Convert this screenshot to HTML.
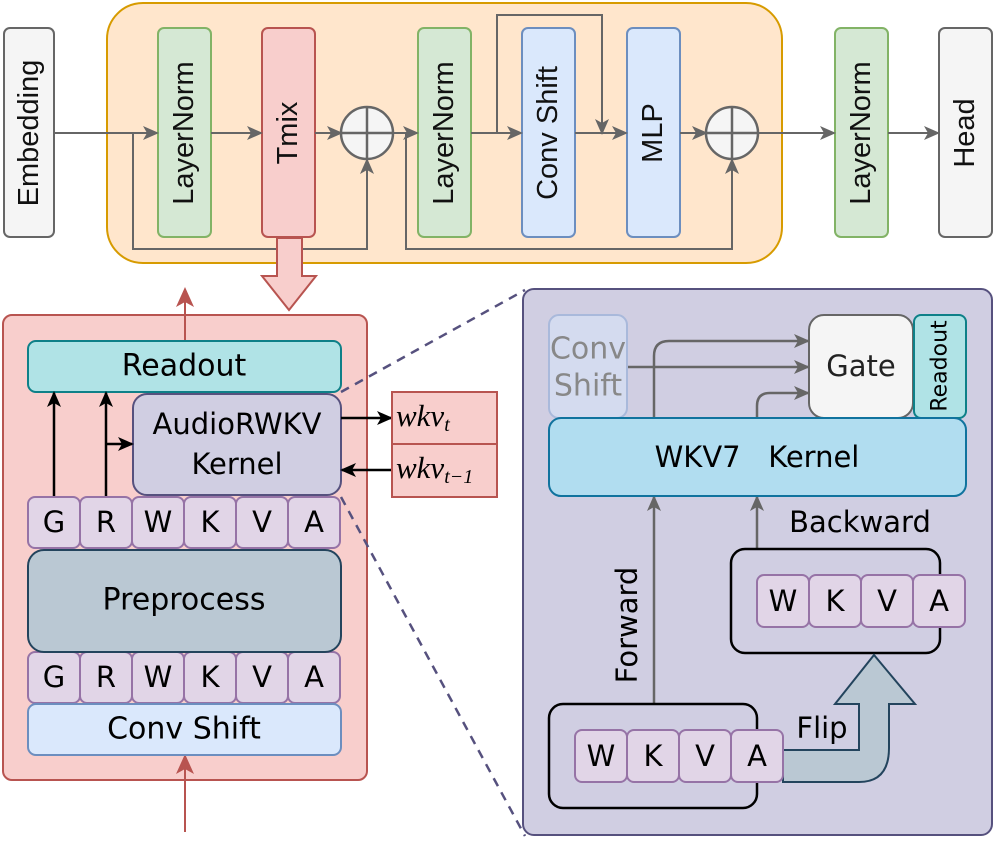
<!DOCTYPE html>
<html><head><meta charset="utf-8"><style>html,body{margin:0;padding:0;background:#fff}svg{display:block}</style></head><body>
<svg width="997" height="860" viewBox="0 0 997 860" xmlns="http://www.w3.org/2000/svg">
<defs>
<marker id="ag" markerWidth="16" markerHeight="14" refX="14" refY="7" orient="auto" markerUnits="userSpaceOnUse"><path d="M0,0 L16,7 L0,14 L4,7 Z" fill="#666"/></marker>
<marker id="ab" markerWidth="16" markerHeight="14" refX="14" refY="7" orient="auto" markerUnits="userSpaceOnUse"><path d="M0,0 L16,7 L0,14 L4,7 Z" fill="#000"/></marker>
<marker id="ar" markerWidth="20" markerHeight="18" refX="18" refY="9" orient="auto" markerUnits="userSpaceOnUse"><path d="M0,0 L20,9 L0,18 L5,9 Z" fill="#b85450"/></marker>
</defs>
<g font-family="Liberation Sans, sans-serif">
<rect x="107" y="3" width="675" height="260" rx="36" fill="#ffe6cc" stroke="#d79b00" stroke-width="2"/>
<rect x="4" y="28" width="50" height="209" rx="6" fill="#f5f5f5" stroke="#666" stroke-width="2"/>
<rect x="158" y="28" width="53" height="209" rx="6" fill="#d5e8d4" stroke="#82b366" stroke-width="2"/>
<rect x="262" y="28" width="53" height="209" rx="6" fill="#f8cecc" stroke="#b85450" stroke-width="2"/>
<rect x="418" y="28" width="53" height="209" rx="6" fill="#d5e8d4" stroke="#82b366" stroke-width="2"/>
<rect x="522" y="28" width="53" height="209" rx="6" fill="#dae8fc" stroke="#6c8ebf" stroke-width="2"/>
<rect x="627" y="28" width="53" height="209" rx="6" fill="#dae8fc" stroke="#6c8ebf" stroke-width="2"/>
<rect x="835" y="28" width="53" height="209" rx="6" fill="#d5e8d4" stroke="#82b366" stroke-width="2"/>
<rect x="939" y="28" width="53" height="209" rx="6" fill="#f5f5f5" stroke="#666" stroke-width="2"/>
<g font-size="29" text-anchor="middle" fill="#111" dominant-baseline="central">
<text transform="translate(29,133) rotate(-90)">Embedding</text>
<text transform="translate(184,133) rotate(-90)">LayerNorm</text>
<text transform="translate(288,133) rotate(-90)">Tmix</text>
<text transform="translate(444,133) rotate(-90)">LayerNorm</text>
<text transform="translate(548,133) rotate(-90)">Conv Shift</text>
<text transform="translate(653,133) rotate(-90)">MLP</text>
<text transform="translate(861,133) rotate(-90)">LayerNorm</text>
<text transform="translate(965,133) rotate(-90)">Head</text>
</g>
<g stroke="#666" stroke-width="2" fill="none">
<line x1="54" y1="133" x2="157" y2="133" marker-end="url(#ag)"/>
<line x1="211" y1="133" x2="261" y2="133" marker-end="url(#ag)"/>
<line x1="315" y1="133" x2="341" y2="133" marker-end="url(#ag)"/>
<polyline points="133,133 133,249 367,249 367,160" marker-end="url(#ag)"/>
<line x1="393" y1="133" x2="417" y2="133" marker-end="url(#ag)"/>
<polyline points="406,133 406,249 732,249 732,160" marker-end="url(#ag)"/>
<line x1="471" y1="133" x2="521" y2="133" marker-end="url(#ag)"/>
<polyline points="497,133 497,15 602,15 602,133" marker-end="url(#ag)"/>
<line x1="575" y1="133" x2="626" y2="133" marker-end="url(#ag)"/>
<line x1="680" y1="133" x2="706" y2="133" marker-end="url(#ag)"/>
<line x1="758" y1="133" x2="834" y2="133" marker-end="url(#ag)"/>
<line x1="888" y1="133" x2="938" y2="133" marker-end="url(#ag)"/>
</g>
<g stroke="#666" stroke-width="2.5" fill="none">
<circle cx="367" cy="133" r="26" fill="#f5f5f5"/>
<line x1="341" y1="133" x2="393" y2="133"/><line x1="367" y1="107" x2="367" y2="159"/>
<circle cx="732" cy="133" r="26" fill="#f5f5f5"/>
<line x1="706" y1="133" x2="758" y2="133"/><line x1="732" y1="107" x2="732" y2="159"/>
</g>
<path d="M277,238 L302,238 L302,276 L316,276 L289,310 L262,276 L277,276 Z" fill="#f8cecc" stroke="#b85450" stroke-width="2"/>
</g>

<g font-family="DejaVu Sans, sans-serif" dominant-baseline="central">
<rect x="3" y="315" width="364" height="465" rx="9" fill="#f8cecc" stroke="#b85450" stroke-width="2"/>
<line x1="185" y1="341" x2="185" y2="289" stroke="#b85450" stroke-width="2" marker-end="url(#ar)"/>
<line x1="185" y1="832" x2="185" y2="756" stroke="#b85450" stroke-width="2" marker-end="url(#ar)"/>
<rect x="28" y="341" width="313" height="51" rx="8" fill="#b0e3e6" stroke="#0e8088" stroke-width="2"/>
<text x="184" y="366" font-size="30" text-anchor="middle">Readout</text>
<rect x="133" y="394" width="208" height="101" rx="14" fill="#d0cee2" stroke="#56517e" stroke-width="2"/>
<text x="237" y="424" font-size="29" text-anchor="middle">AudioRWKV</text>
<text x="237" y="464" font-size="29" text-anchor="middle">Kernel</text>
<g fill="#e1d5e7" stroke="#9673a6" stroke-width="2">
<rect x="28" y="497" width="52" height="51" rx="7"/><rect x="80" y="497" width="52" height="51" rx="7"/><rect x="132" y="497" width="52" height="51" rx="7"/><rect x="184" y="497" width="52" height="51" rx="7"/><rect x="236" y="497" width="52" height="51" rx="7"/><rect x="288" y="497" width="52" height="51" rx="7"/>
<rect x="28" y="652" width="52" height="51" rx="7"/><rect x="80" y="652" width="52" height="51" rx="7"/><rect x="132" y="652" width="52" height="51" rx="7"/><rect x="184" y="652" width="52" height="51" rx="7"/><rect x="236" y="652" width="52" height="51" rx="7"/><rect x="288" y="652" width="52" height="51" rx="7"/>
</g>
<g font-size="29" text-anchor="middle">
<text x="54" y="522">G</text><text x="106" y="522">R</text><text x="158" y="522">W</text><text x="210" y="522">K</text><text x="262" y="522">V</text><text x="314" y="522">A</text>
<text x="54" y="677">G</text><text x="106" y="677">R</text><text x="158" y="677">W</text><text x="210" y="677">K</text><text x="262" y="677">V</text><text x="314" y="677">A</text>
</g>
<rect x="28" y="550" width="313" height="102" rx="16" fill="#bac8d3" stroke="#23445d" stroke-width="2"/>
<text x="184" y="600" font-size="30" text-anchor="middle">Preprocess</text>
<rect x="28" y="704" width="313" height="51" rx="8" fill="#dae8fc" stroke="#6c8ebf" stroke-width="2"/>
<text x="184" y="729" font-size="30" text-anchor="middle">Conv Shift</text>
<g stroke="#000" stroke-width="2.5" fill="none">
<line x1="54" y1="496" x2="54" y2="393" marker-end="url(#ab)"/>
<line x1="106" y1="496" x2="106" y2="393" marker-end="url(#ab)"/>
<line x1="106" y1="444" x2="132" y2="444" marker-end="url(#ab)"/>
<line x1="341" y1="418" x2="391" y2="418" marker-end="url(#ab)"/>
<line x1="392" y1="470" x2="342" y2="470" marker-end="url(#ab)"/>
</g>
<rect x="392" y="392" width="105" height="52" fill="#f8cecc" stroke="#b85450" stroke-width="2"/>
<rect x="392" y="444" width="105" height="53" fill="#f8cecc" stroke="#b85450" stroke-width="2"/>
<text x="396" y="418" font-family="Liberation Serif, serif" font-style="italic" font-size="31" dominant-baseline="auto" transform="translate(0,8)">wkv<tspan font-size="20" dy="5">t</tspan></text>
<text x="396" y="470" font-family="Liberation Serif, serif" font-style="italic" font-size="31" dominant-baseline="auto" transform="translate(0,8)">wkv<tspan font-size="20" dy="5">t−1</tspan></text>
<line x1="341" y1="392" x2="525" y2="290" stroke="#56517e" stroke-width="2.5" stroke-dasharray="9,7"/>
<line x1="341" y1="497" x2="525" y2="836" stroke="#56517e" stroke-width="2.5" stroke-dasharray="9,7"/>

<rect x="523" y="289" width="469" height="546" rx="11" fill="#d0cee2" stroke="#56517e" stroke-width="2"/>
<rect x="549" y="315" width="78" height="103" rx="10" fill="#d4dbef" stroke="#a9b9db" stroke-width="2"/>
<text x="588" y="349" font-size="30" text-anchor="middle" fill="#888">Conv</text>
<text x="588" y="386" font-size="30" text-anchor="middle" fill="#888">Shift</text>
<rect x="809" y="315" width="104" height="103" rx="15" fill="#f5f5f5" stroke="#666" stroke-width="2"/>
<text x="861" y="366" font-size="29" text-anchor="middle" fill="#222">Gate</text>
<rect x="914" y="315" width="52" height="103" rx="7" fill="#b0e3e6" stroke="#0e8088" stroke-width="2"/>
<text transform="translate(940,366) rotate(-90)" font-size="22" text-anchor="middle">Readout</text>
<g stroke="#666" stroke-width="2.5" fill="none">
<path d="M654,418 L654,356 Q654,341 669,341 L808,341" marker-end="url(#ag)"/>
<line x1="628" y1="367" x2="808" y2="367" marker-end="url(#ag)"/>
<path d="M757,418 L757,406 Q757,393 770,393 L808,393" marker-end="url(#ag)"/>
<line x1="654" y1="704" x2="654" y2="497" marker-end="url(#ag)"/>
<line x1="757" y1="548" x2="757" y2="497" marker-end="url(#ag)"/>
</g>
<rect x="549" y="418" width="417" height="78" rx="12" fill="#b1ddf0" stroke="#10739e" stroke-width="2"/>
<text x="757" y="457" font-size="29" text-anchor="middle" xml:space="preserve">WKV7   Kernel</text>
<text x="860" y="522" font-size="29" text-anchor="middle">Backward</text>
<text transform="translate(627,625) rotate(-90)" font-size="29" text-anchor="middle">Forward</text>
<rect x="731" y="549" width="209" height="104" rx="14" fill="none" stroke="#000" stroke-width="2.5"/>
<rect x="549" y="704" width="208" height="104" rx="14" fill="none" stroke="#000" stroke-width="2.5"/>
<path d="M783,750 L859,750 L859,704 L835,704 L874,655 L915,704 L889,704 L889,748 Q889,782 859,782 L783,782 Z" fill="#bac8d3" stroke="#23445d" stroke-width="2"/>
<text x="822" y="728" font-size="29" text-anchor="middle">Flip</text>
<g fill="#e1d5e7" stroke="#9673a6" stroke-width="2">
<rect x="757" y="575" width="52" height="52" rx="7"/><rect x="809" y="575" width="52" height="52" rx="7"/><rect x="861" y="575" width="52" height="52" rx="7"/><rect x="913" y="575" width="52" height="52" rx="7"/>
<rect x="575" y="730" width="52" height="52" rx="7"/><rect x="627" y="730" width="52" height="52" rx="7"/><rect x="679" y="730" width="52" height="52" rx="7"/><rect x="731" y="730" width="52" height="52" rx="7"/>
</g>
<g font-size="29" text-anchor="middle">
<text x="783" y="601">W</text><text x="835" y="601">K</text><text x="887" y="601">V</text><text x="939" y="601">A</text>
<text x="601" y="756">W</text><text x="653" y="756">K</text><text x="705" y="756">V</text><text x="757" y="756">A</text>
</g>
</g>
</svg>
</body></html>
